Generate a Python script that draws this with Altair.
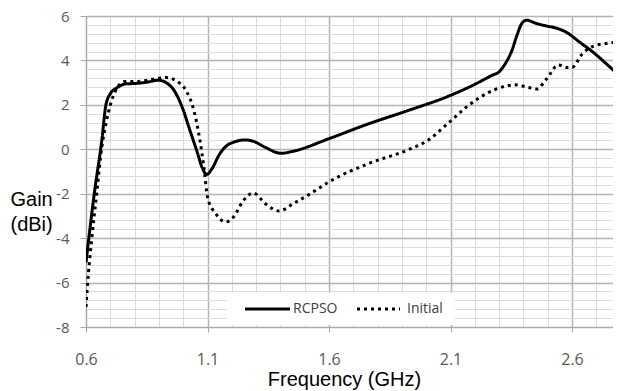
import altair as alt
import pandas as pd

# ---- data ----
series_names = ["RCPSO", "Initial"]

rcpso_freq = [0.600, 0.634, 0.665, 0.682, 0.700, 0.726, 0.767, 0.800, 0.850, 0.898,
              0.930, 0.963, 0.996, 1.028, 1.060, 1.077, 1.097, 1.118, 1.150, 1.190,
              1.256, 1.289, 1.337, 1.403, 1.452, 1.598, 1.761, 1.924, 2.087, 2.201,
              2.267, 2.304, 2.324, 2.352, 2.375, 2.393, 2.413, 2.454, 2.495, 2.537,
              2.578, 2.633, 2.688, 2.743, 2.800]
rcpso_gain = [-5.10, -2.00, 0.40, 2.00, 2.50, 2.76, 2.95, 2.96, 3.02, 3.11,
              3.00, 2.64, 1.89, 0.84, -0.21, -0.80, -1.13, -0.88, -0.21, 0.24,
              0.42, 0.36, 0.09, -0.18, -0.09, 0.47, 1.14, 1.74, 2.37, 2.93,
              3.31, 3.53, 3.83, 4.43, 5.18, 5.66, 5.81, 5.66, 5.55, 5.45,
              5.26, 4.81, 4.36, 3.83, 3.26]

init_freq = [0.600, 0.610, 0.623, 0.644, 0.665, 0.682, 0.720, 0.760, 0.800, 0.850,
             0.898, 0.930, 0.971, 1.012, 1.044, 1.069, 1.085, 1.101, 1.134, 1.175,
             1.207, 1.248, 1.289, 1.338, 1.395, 1.452, 1.534, 1.598, 1.761, 1.924,
             2.005, 2.087, 2.168, 2.250, 2.315, 2.364, 2.413, 2.454, 2.495, 2.544,
             2.576, 2.600, 2.641, 2.690, 2.739, 2.800]
init_gain = [-7.10, -5.58, -4.10, -2.00, 0.09, 1.15, 2.60, 3.05, 3.05, 3.10,
             3.20, 3.23, 3.08, 2.64, 1.74, 0.39, -0.80, -2.20, -2.90, -3.27,
             -3.05, -2.30, -1.97, -2.45, -2.78, -2.45, -1.93, -1.48, -0.65, -0.03,
             0.39, 1.14, 1.92, 2.52, 2.81, 2.90, 2.81, 2.71, 3.16, 3.80,
             3.68, 3.68, 4.28, 4.65, 4.76, 4.85]

# visible window of the (cropped) original axis
x_domain = [0.6, 2.7687]
y_domain = [-8, 6]
x_ticks = [round(0.6 + 0.1 * k, 1) for k in range(22)]
y_ticks = [round(-8 + 0.4 * k, 1) for k in range(36)]

df = pd.concat([
    pd.DataFrame({"freq": rcpso_freq, "gain": rcpso_gain, "series": series_names[0]}),
    pd.DataFrame({"freq": init_freq, "gain": init_gain, "series": series_names[1]}),
])

major_x = "abs((datum.value - 0.6) / 0.5 - round((datum.value - 0.6) / 0.5)) < 0.01"
major_y = "abs(datum.value / 2 - round(datum.value / 2)) < 0.01"

MAJOR = "#b4b4b4"
MINOR = "#dcdcdc"
TICKFONT = "Open Sans"

x_axis = alt.Axis(
    values=x_ticks,
    labelExpr=f"({major_x}) ? format(datum.value, '.1f') : ''",
    labelFlush=False, labelOverlap=False,
    gridColor={"condition": {"test": major_x, "value": MAJOR}, "value": MINOR},
    gridWidth={"condition": {"test": major_x, "value": 1.5}, "value": 1},
    tickOpacity={"condition": {"test": major_x, "value": 1}, "value": 0},
    tickColor="#a8a8a8", tickSize=5, labelPadding=19,
    labelFont=TICKFONT, labelFontSize=16, labelColor="#595959",
    domainColor="#a8a8a8",
    title="Frequency (GHz)", titleFont="Liberation Sans", titleFontSize=20,
    titleFontWeight="normal", titleColor="#000000",
    titleX=258, titleY=58, titleAlign="center", titleBaseline="alphabetic",
)
y_axis = alt.Axis(
    values=y_ticks,
    labelExpr=f"({major_y}) ? '' + round(datum.value) : ''",
    labelFlush=False, labelOverlap=False,
    gridColor={"condition": {"test": major_y, "value": MAJOR}, "value": MINOR},
    gridWidth={"condition": {"test": major_y, "value": 1.5}, "value": 1},
    tickOpacity={"condition": {"test": major_y, "value": 1}, "value": 0},
    tickColor="#a8a8a8", tickSize=6, labelPadding=11,
    labelFont=TICKFONT, labelFontSize=15, labelColor="#595959",
    domainColor="#a8a8a8",
    title=["Gain", "(dBi)"], titleFont="Liberation Sans", titleFontSize=20,
    titleFontWeight="normal", titleColor="#000000", titleAngle=0,
    titleAlign="left", titleBaseline="alphabetic", titleLineHeight=25,
    titleX=-76, titleY=189,
)

one = pd.DataFrame({"k": [0]})

legend_box = alt.Chart(one).mark_rect(color="white").encode(
    x=alt.value(141), x2=alt.value(369), y=alt.value(277), y2=alt.value(309)
)

lines = alt.Chart(df).mark_line(color="black", strokeWidth=3, interpolate="monotone",
                                clip=True).encode(
    x=alt.X("freq:Q", scale=alt.Scale(domain=x_domain, nice=False, zero=False), axis=x_axis),
    y=alt.Y("gain:Q", scale=alt.Scale(domain=y_domain, nice=False, zero=False), axis=y_axis),
    strokeDash=alt.StrokeDash("series:N",
                              scale=alt.Scale(domain=series_names, range=[[1, 0], [3, 4]]),
                              legend=None),
)

leg_solid = alt.Chart(one).mark_rule(color="black", strokeWidth=3).encode(
    x=alt.value(159), x2=alt.value(204), y=alt.value(293)
)
leg_dot = alt.Chart(one).mark_rule(color="black", strokeWidth=3, strokeDash=[3, 4]).encode(
    x=alt.value(271), x2=alt.value(314), y=alt.value(293)
)
leg_t1 = alt.Chart(one).mark_text(align="left", baseline="middle", font=TICKFONT,
                                  fontSize=14, color="#404040", text=series_names[0]).encode(
    x=alt.value(207), y=alt.value(293)
)
leg_t2 = alt.Chart(one).mark_text(align="left", baseline="middle", font=TICKFONT,
                                  fontSize=14, color="#404040", text=series_names[1]).encode(
    x=alt.value(321), y=alt.value(293)
)

chart = alt.layer(legend_box, lines, leg_solid, leg_dot, leg_t1, leg_t2).properties(
    width=527, height=311,
    padding={"left": 78, "top": 8, "right": 0, "bottom": 64},
    autosize=alt.AutoSizeParams(type="none"),
    background="white",
).configure_view(strokeWidth=0)

chart.save("out.html", embed_options={"renderer": "svg", "actions": False})
